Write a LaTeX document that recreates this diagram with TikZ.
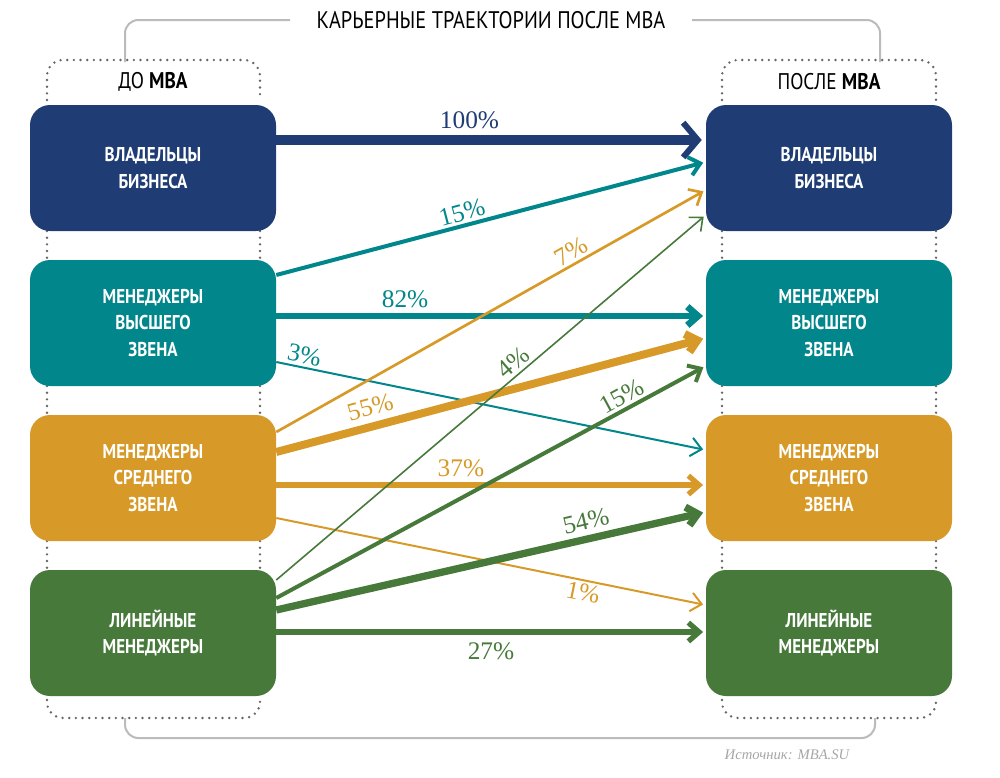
\documentclass[tikz,border=0pt]{standalone}
\usepackage{fontspec}
\setmainfont{Liberation Serif}
\newfontfamily\boxfont[FakeStretch=0.85]{PT Sans}
\usetikzlibrary{arrows.meta,calc}
\definecolor{cnavy}{HTML}{1F3C74}
\definecolor{cteal}{HTML}{00868B}
\definecolor{corange}{HTML}{D79A28}
\definecolor{cgreen}{HTML}{477A3A}
\definecolor{cgray}{HTML}{BBBBBB}
\begin{document}
\begin{tikzpicture}[x=0.75pt,y=-0.75pt,
  rbox/.style={rounded corners=15pt,minimum width=184.5pt,minimum height=94.5pt,align=center,text=white,font=\boxfont\bfseries\fontsize{15}{20}\selectfont},
  flow/.style={-{Straight Barb[length=8pt,width=14pt]}, shorten >=2pt},
  pct/.style={font=\fontsize{19}{20}\selectfont,inner sep=2pt},
  dotf/.style={draw=gray!80!black,line width=2pt,dash pattern=on 0pt off 5pt,line cap=round,rounded corners=12pt}]
\useasboundingbox (0,0) rectangle (1000,778);
% brackets
\draw[cgray,line width=1.5pt,rounded corners=10pt] (290,20) -- (125,20) -- (125,62);
\draw[cgray,line width=1.5pt,rounded corners=10pt] (692,20) -- (880,20) -- (880,62);
\draw[cgray,line width=1.5pt,rounded corners=10pt] (125,718) -- (125,738) -- (875,738) -- (875,718);
\node[font=\boxfont\fontsize{18}{20}\selectfont] (title) at (491,20) {КАРЬЕРНЫЕ ТРАЕКТОРИИ ПОСЛЕ MBA};
% dotted frames
\draw[dotf] (47,100) -- (47,60) -- (260,60) -- (260,100);
\draw[dotf] (47,700) -- (47,718) -- (260,718) -- (260,700);
\draw[dotf] (722,100) -- (722,60) -- (936,60) -- (936,100);
\draw[dotf] (722,700) -- (722,718) -- (936,718) -- (936,700);
\foreach \x in {47,260,722,936}{\draw[dotf] (\x,231) -- (\x,260); \draw[dotf] (\x,386) -- (\x,415); \draw[dotf] (\x,541) -- (\x,570);}
\node[font=\boxfont\fontsize{17}{20}\selectfont] (hl) at (153,82) {ДО \textbf{MBA}};
\node[font=\boxfont\fontsize{17}{20}\selectfont] (hr) at (829,82) {ПОСЛЕ \textbf{MBA}};
% boxes
\node[rbox,fill=cnavy] (l1) at (153,168) {ВЛАДЕЛЬЦЫ\\БИЗНЕСА};
\node[rbox,fill=cteal] (l2) at (153,323) {МЕНЕДЖЕРЫ\\ВЫСШЕГО\\ЗВЕНА};
\node[rbox,fill=corange] (l3) at (153,478) {МЕНЕДЖЕРЫ\\СРЕДНЕГО\\ЗВЕНА};
\node[rbox,fill=cgreen] (l4) at (153,633) {ЛИНЕЙНЫЕ\\МЕНЕДЖЕРЫ};
\node[rbox,fill=cnavy] (r1) at (829,168) {ВЛАДЕЛЬЦЫ\\БИЗНЕСА};
\node[rbox,fill=cteal] (r2) at (829,323) {МЕНЕДЖЕРЫ\\ВЫСШЕГО\\ЗВЕНА};
\node[rbox,fill=corange] (r3) at (829,478) {МЕНЕДЖЕРЫ\\СРЕДНЕГО\\ЗВЕНА};
\node[rbox,fill=cgreen] (r4) at (829,633) {ЛИНЕЙНЫЕ\\МЕНЕДЖЕРЫ};
% flows
\draw[-{Straight Barb[length=11pt,width=26pt,line width=4.5pt]},shorten >=3pt,cnavy,line width=7pt] ($(l1.east)+(0,-28)$) -- node[pct,pos=.45,above=3pt,text=cnavy]{100\%} ($(r1.west)+(0,-28)$);
\draw[flow,cteal,line width=3pt] ($(l2.east)+(0,-48)$) -- node[pct,pos=.44,sloped,above,text=cteal]{15\%} ($(r1.west)+(0,-6)$);
\draw[flow,cteal,line width=5pt] ($(l2.east)+(0,-7)$) -- node[pct,pos=.3,above=2pt,text=cteal]{82\%} ($(r2.west)+(0,-7)$);
\draw[flow,cteal,line width=1.5pt] ($(l2.east)+(0,39)$) -- node[pct,pos=.06,sloped,above,text=cteal]{3\%} ($(r3.west)+(0,-28)$);
\draw[flow,corange,line width=2pt] ($(l3.east)+(0,-46)$) -- node[pct,pos=.7,sloped,above,text=corange]{7\%} ($(r1.west)+(0,22)$);
\draw[flow,corange,line width=6pt] ($(l3.east)+(0,-26)$) -- node[pct,pos=.23,sloped,above=3pt,text=corange]{55\%} ($(r2.west)+(0,15)$);
\draw[flow,corange,line width=4pt] ($(l3.east)+(0,7)$) -- node[pct,pos=.43,above=2pt,text=corange]{37\%} ($(r3.west)+(0,7)$);
\draw[flow,corange,line width=1.5pt] ($(l3.east)+(0,40)$) -- node[pct,pos=.72,sloped,below,text=corange]{1\%} ($(r4.west)+(0,-28)$);
\draw[flow,cgreen,line width=1.2pt] ($(l4.east)+(0,-53)$) -- node[pct,pos=.57,sloped,above,text=cgreen]{4\%} ($(r1.west)+(0,47)$);
\draw[flow,cgreen,line width=3pt] ($(l4.east)+(0,-35)$) -- node[pct,pos=.82,sloped,above,text=cgreen]{15\%} ($(r2.west)+(0,43)$);
\draw[flow,cgreen,line width=5.5pt] ($(l4.east)+(0,-23)$) -- node[pct,pos=.73,sloped,above=2pt,text=cgreen]{54\%} ($(r3.west)+(0,34)$);
\draw[flow,cgreen,line width=4pt] ($(l4.east)+(0,-1)$) -- node[pct,pos=.5,below=4pt,text=cgreen]{27\%} ($(r4.west)+(0,-1)$);
\node[font=\itshape\fontsize{11}{13}\selectfont,text=gray!70] (src) at (787,755) {Источник: MBA.SU};
\end{tikzpicture}
\end{document}
